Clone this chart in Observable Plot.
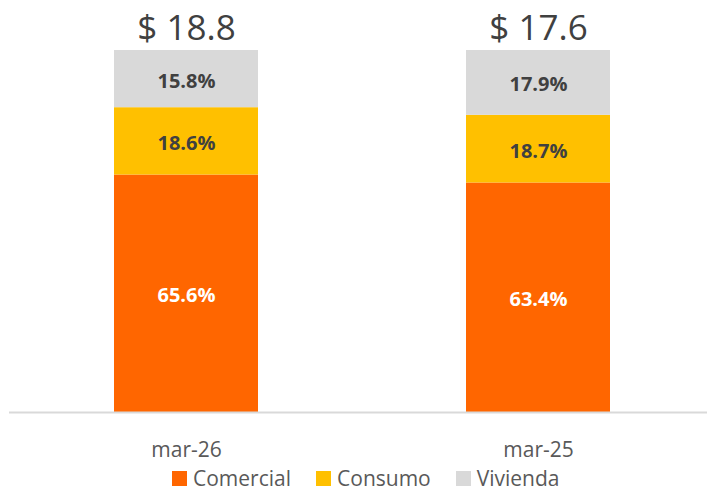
<!DOCTYPE html>
<html><head><meta charset="utf-8">
<script src="https://cdn.jsdelivr.net/npm/d3@7"></script>
<script src="https://cdn.jsdelivr.net/npm/@observablehq/plot@0.6"></script>
<style>
body{margin:0;background:#fff;font-family:"Open Sans",sans-serif;}
#wrap{position:relative;width:707px;height:493px;}
#legend{position:absolute;top:468px;left:172px;height:20px;display:flex;align-items:center;font-size:21px;line-height:20px;color:#595959;white-space:nowrap;}
.item{display:flex;align-items:center;margin-right:25px;}
.item span{display:block;height:20px;line-height:20px;}
.sw{width:15px;height:15px;margin-right:6px;}
</style></head>
<body><div id="wrap"><div id="chart"></div><div id="legend"></div></div>
<script>
const categories = ["mar-26", "mar-25"];
const series = ["Comercial", "Consumo", "Vivienda"];
const comercial = [65.6, 63.4];
const consumo = [18.6, 18.7];
const vivienda = [15.8, 17.9];
const totals = ["$ 18.8", "$ 17.6"];
const colors = ["#FF6600", "#FFC000", "#D9D9D9"];
const textColors = ["#ffffff", "#404040", "#404040"];

const vals = [comercial, consumo, vivienda];
const rows = [];
series.forEach((s, si) => categories.forEach((c, ci) => rows.push({cat: c, serie: s, value: vals[si][ci]})));
const totalRows = categories.map((c, i) => ({cat: c, label: totals[i], top: 100}));

const chart = Plot.plot({
  width: 707, height: 466,
  marginTop: 50, marginBottom: 54, marginLeft: 9, marginRight: 0,
  style: {fontFamily: "Open Sans, sans-serif", background: "#fff"},
  x: {domain: categories, padding: 0.592, paddingOuter: 0.285, align: 0.517, label: null},
  y: {domain: [0, 100], axis: null},
  color: {domain: series, range: colors},
  marks: [
    Plot.barY(rows, {x: "cat", y: "value", fill: "serie", order: series}),
    Plot.text(rows, Plot.stackY({x: "cat", y: "value", z: "serie", order: series,
      text: d => d.value.toFixed(1) + "%",
      fill: d => textColors[series.indexOf(d.serie)],
      fontSize: 20, fontWeight: "bold", dy: 2})),
    Plot.text(totalRows, {x: "cat", y: "top", text: "label", fontSize: 35, fill: "#404040", dy: -22}),
    Plot.ruleY([0], {stroke: "#D9D9D9", strokeWidth: 2}),
    Plot.axisX({tickSize: 0, tickPadding: 30, fontSize: 21, color: "#595959", label: null})
  ]
});
document.getElementById("chart").appendChild(chart);

const legend = document.getElementById("legend");
series.forEach((s, i) => {
  const it = document.createElement("div");
  it.className = "item";
  const sw = document.createElement("div");
  sw.className = "sw"; sw.style.background = colors[i];
  const t = document.createElement("span");
  t.textContent = s;
  it.appendChild(sw); it.appendChild(t);
  legend.appendChild(it);
});
</script></body></html>
